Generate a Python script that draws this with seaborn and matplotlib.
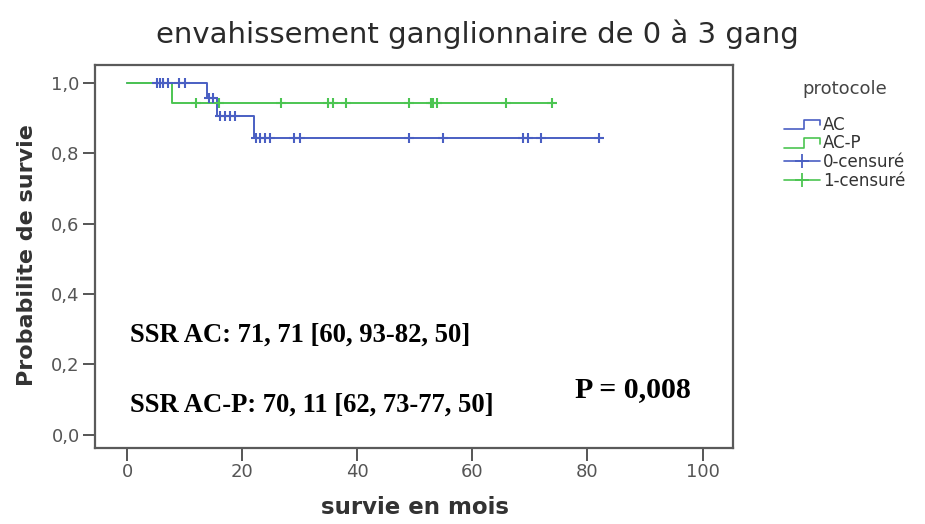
import numpy as np
import pandas as pd
import matplotlib
matplotlib.use("Agg")
import matplotlib.pyplot as plt
from matplotlib.lines import Line2D
from matplotlib.legend_handler import HandlerBase
from matplotlib.ticker import FuncFormatter
import seaborn as sns

# Kaplan-Meier curves per protocol: event times (months) and survival after each event
ac_event_times = [13.9, 15.6, 22.0]
ac_survival = [0.957, 0.905, 0.842]
ac_censored = [5.1, 5.7, 6.3, 7.1, 9.0, 10.0, 14.3, 14.9, 16.1, 17.0, 17.8, 18.7,
               22.3, 23.0, 24.0, 24.9, 29.0, 30.0, 49.0, 54.9, 68.8, 69.6, 71.9, 82.0]

acp_event_times = [7.7]
acp_survival = [0.943]
acp_censored = [11.9, 15.9, 26.8, 34.9, 35.8, 38.0, 49.0, 52.8, 53.2, 53.8, 65.8, 73.9]

groups = ["AC", "AC-P"]
censor_labels = ["0-censuré", "1-censuré"]
colors = {"AC": "#4a5fc3", "AC-P": "#4cc552"}

x_ticks = [0, 20, 40, 60, 80, 100]
y_ticks = [0.0, 0.2, 0.4, 0.6, 0.8, 1.0]

title = "envahissement ganglionnaire de 0 à 3 gang"
x_label = "survie en mois"
y_label = "Probabilite de survie"
ssr_ac = "SSR AC: 71, 71 [60, 93-82, 50]"
ssr_acp = "SSR AC-P: 70, 11 [62, 73-77, 50]"
p_value = "P = 0,008"


def km_steps(group, event_times, survival, censored):
    """Step outline of a survival curve running to the last censored time."""
    end = max(censored + event_times)
    t = [0.0] + list(event_times) + [end]
    s = [1.0] + list(survival) + [survival[-1]]
    return pd.DataFrame({"t": t, "s": s, "protocole": group})


def surv_at(times, event_times, survival):
    out = []
    for x in times:
        level = 1.0
        for et, sv in zip(event_times, survival):
            if x >= et:
                level = sv
        out.append(level)
    return out


curves = pd.concat([
    km_steps("AC", ac_event_times, ac_survival, ac_censored),
    km_steps("AC-P", acp_event_times, acp_survival, acp_censored),
], ignore_index=True)

marks = pd.concat([
    pd.DataFrame({"t": ac_censored,
                  "s": surv_at(ac_censored, ac_event_times, ac_survival),
                  "protocole": "AC"}),
    pd.DataFrame({"t": acp_censored,
                  "s": surv_at(acp_censored, acp_event_times, acp_survival),
                  "protocole": "AC-P"}),
], ignore_index=True)

sns.set_theme(style="white")
plt.rcParams["font.family"] = ["DejaVu Sans"]

W, H = 925, 524
fig = plt.figure(figsize=(W / 100, H / 100), dpi=100)
ax = fig.add_axes([95 / W, 1 - 448 / H, (733 - 95) / W, (448 - 65) / H])

for g in groups:
    sub = curves[curves["protocole"] == g]
    sns.lineplot(data=sub, x="t", y="s", ax=ax, color=colors[g], lw=1.4,
                 drawstyle="steps-post", estimator=None, sort=False,
                 legend=False, zorder=3 if g == "AC-P" else 2)

for g in groups:
    sub = marks[marks["protocole"] == g]
    sns.scatterplot(data=sub, x="t", y="s", ax=ax, marker="+", s=55,
                    color=colors[g], linewidth=1.5, legend=False, zorder=4)

ax.set_xlim(-5.6, 105.3)
ax.set_ylim(-0.037, 1.05)
ax.set_xticks(x_ticks)
ax.set_yticks(y_ticks)
ax.yaxis.set_major_formatter(FuncFormatter(lambda v, p: f"{v:.1f}".replace(".", ",")))
ax.tick_params(axis="both", which="both", direction="out", length=9, width=1.4,
               color="#555555", labelsize=13, labelcolor="#555555", pad=2)
ax.tick_params(left=True, bottom=True)
for sp in ax.spines.values():
    sp.set_color("#5a5a5a")
    sp.set_linewidth(1.6)
ax.set_xlabel("")
ax.set_ylabel("")
ax.grid(False)

fig.text(477 / W, 1 - 34 / H, title, ha="center", va="center",
         fontsize=21, color="#2a2a2a")
fig.text(415 / W, 1 - 508 / H, x_label, ha="center", va="center",
         fontsize=16.5, fontweight="bold", color="#333333")
fig.text(27 / W, 1 - 255 / H, y_label, ha="center", va="center",
         rotation=90, fontsize=16, fontweight="bold", color="#333333")

serif = ["Liberation Serif", "DejaVu Serif"]
fig.text(130 / W, 1 - 335 / H, ssr_ac, ha="left", va="center",
         fontsize=19.2, fontweight="bold", family=serif, color="black")
fig.text(130 / W, 1 - 405 / H, ssr_acp, ha="left", va="center",
         fontsize=19.2, fontweight="bold", family=serif, color="black")
fig.text(575 / W, 1 - 390 / H, p_value, ha="left", va="center",
         fontsize=21.5, fontweight="bold", family=serif, color="black")


class StepHandle:
    def __init__(self, color):
        self.color = color


class StepHandler(HandlerBase):
    def create_artists(self, legend, orig_handle, xdescent, ydescent,
                       width, height, fontsize, trans):
        x0 = -xdescent
        x1 = x0 + width
        lo = -ydescent + 0.05 * height
        hi = -ydescent + 0.85 * height
        xm = x0 + 0.55 * width
        line = Line2D([x0, xm, xm, x1, x1], [lo, lo, hi, hi, lo + 0.35 * height],
                      color=orig_handle.color, lw=1.2)
        line.set_transform(trans)
        return [line]


handles = [StepHandle(colors["AC"]), StepHandle(colors["AC-P"]),
           Line2D([], [], color=colors["AC"], lw=1.2, marker="+", markersize=10,
                  markeredgewidth=1.3),
           Line2D([], [], color=colors["AC-P"], lw=1.2, marker="+", markersize=10,
                  markeredgewidth=1.3)]
labels = groups + censor_labels

leg = fig.legend(handles, labels, title="protocole",
                 handler_map={StepHandle: StepHandler()},
                 loc="upper left", bbox_to_anchor=(772 / W, 1 - 68 / H),
                 frameon=False, fontsize=12, title_fontsize=13,
                 handlelength=2.2, handletextpad=0.15, labelspacing=0.04,
                 borderpad=0.2, markerfirst=True)
leg.get_title().set_color("#444444")
leg._legend_box.sep = 13
for t in leg.get_texts():
    t.set_color("#333333")

fig.savefig("out.png", dpi=100)
